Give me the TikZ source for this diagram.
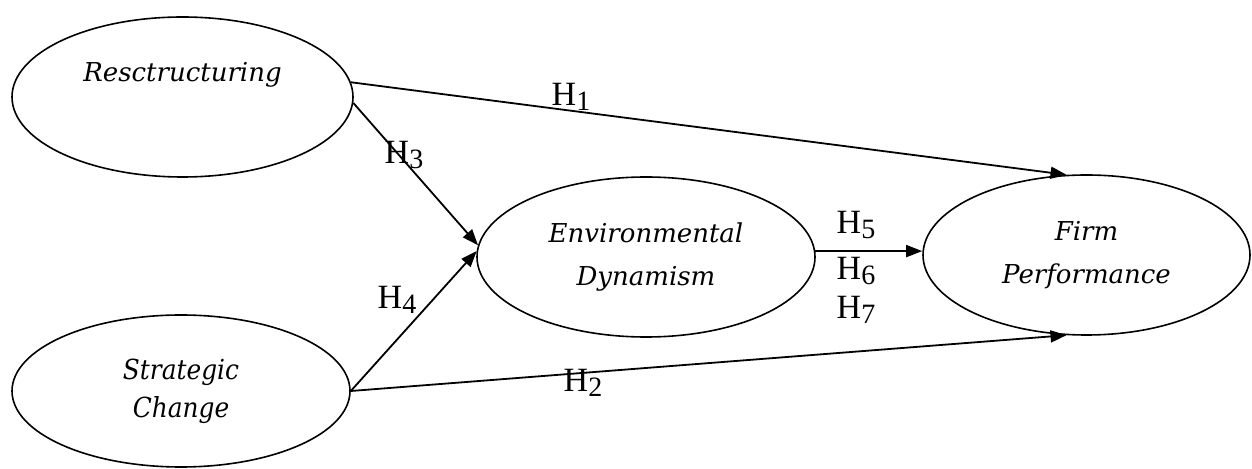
\documentclass[tikz,border=0pt]{standalone}
\usepackage{fontspec}
\setmainfont{Liberation Serif}
\newfontfamily\efont{DejaVu Serif}
\newfontfamily\sfontc{DejaVu Serif Condensed}
\usetikzlibrary{shapes.geometric,arrows.meta}
\newcommand{\hyp}[1]{H\raisebox{-0.3ex}{\fontsize{14}{14}\selectfont #1}}
\begin{document}
\begin{tikzpicture}[x=0.5pt,y=-0.5pt,
  ell/.style={ellipse,draw,line width=0.8pt,inner sep=0pt},
  conn/.style={line width=0.9pt,-{Triangle[length=8pt,width=6pt]}},
  hlab/.style={font=\fontsize{17}{17}\selectfont,inner sep=0pt},
  etext/.style={font=\efont\itshape\fontsize{13}{21.5}\selectfont,align=center},
  stext/.style={font=\sfontc\itshape\fontsize{13.8}{19}\selectfont,align=center}]
\useasboundingbox (0,0) rectangle (1252,469);
\node[ell,minimum width=170.5pt,minimum height=80pt] (r) at (182.5,97) {};
\node[etext,inner sep=0pt] (rt) at (182.5,75) {Resctructuring};
\node[ell,etext,minimum width=169pt,minimum height=80pt] (e) at (646,257) {Environmental\\Dynamism};
\node[ell,etext,minimum width=163.5pt,minimum height=80pt] (f) at (1086.5,255) {Firm\\Performance};
\node[ell,stext,minimum width=169pt,minimum height=76pt] (s) at (181,391) {Strategic\\Change};
\draw[conn] (r.5) -- (f.104);
\draw[conn] (r.-2) -- (e.176);
\draw[conn] (s.east) -- (e.178);
\draw[conn] (s.east) -- (f.-104);
\draw[conn] (e.2) -- (e.2 -| f.west);
\node[hlab] (h1) at (571,97) {\hyp{1}};
\node[hlab] (h2) at (583,383) {\hyp{2}};
\node[hlab] (h3) at (404,155) {\hyp{3}};
\node[hlab] (h4) at (397,300) {\hyp{4}};
\node[hlab] (h5) at (856,225) {\hyp{5}};
\node[hlab] (h6) at (856,271) {\hyp{6}};
\node[hlab] (h7) at (856,310) {\hyp{7}};
\end{tikzpicture}
\end{document}
